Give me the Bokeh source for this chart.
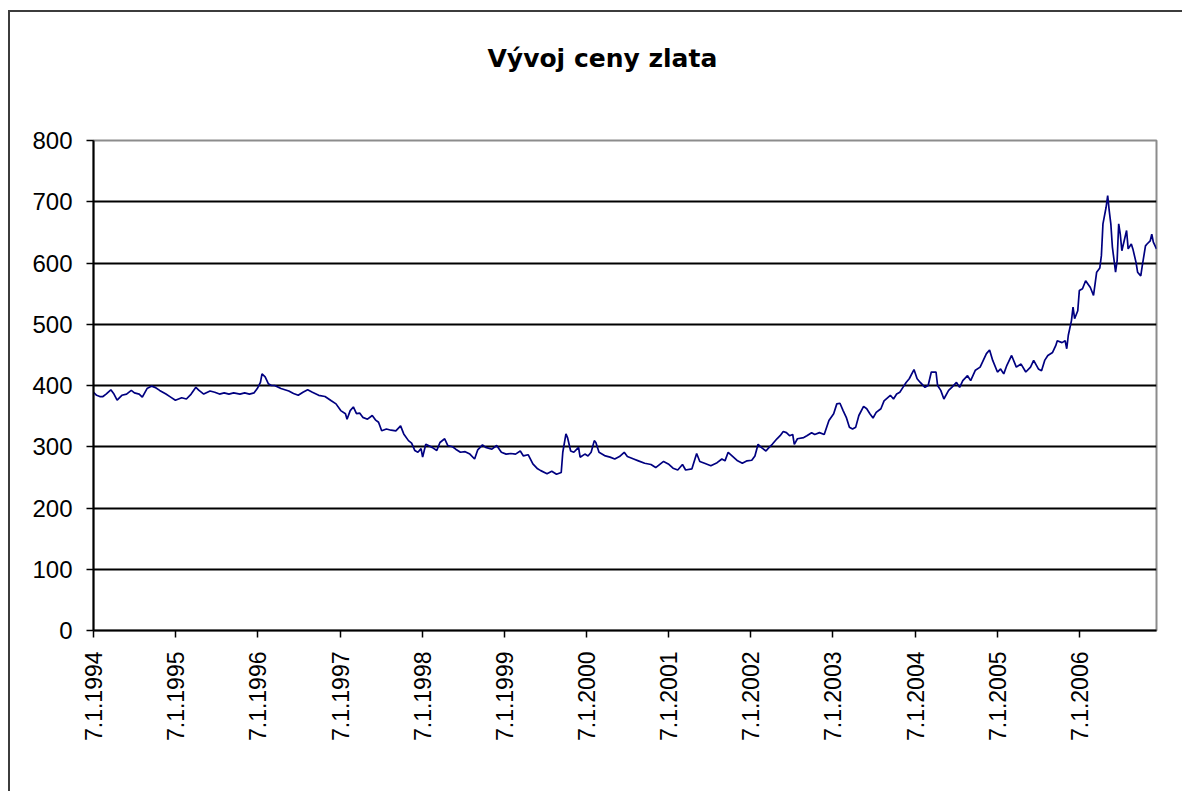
import datetime
import numpy as np
from bokeh.plotting import figure
from bokeh.layouts import column
from bokeh.models import FixedTicker, CustomJSTickFormatter, Range1d
from bokeh.embed import file_html
from bokeh.resources import INLINE

# weeks since 7.1.1994 (weekly gold price observations)
weeks = [0, 2, 4, 6, 8, 11, 13, 15, 18, 21, 24, 26, 29, 31, 34, 37, 39, 42, 46, 49,
         52, 56, 59, 62, 65, 67, 70, 74, 77, 80, 83, 86, 89, 93, 96, 99, 102, 104, 106, 107,
         109, 111, 113, 115, 119, 124, 127, 130, 133, 136, 139, 143, 147, 151, 154, 157, 160, 161, 163, 165,
         167, 169, 171, 174, 177, 179, 181, 183, 186, 189, 192, 195, 197, 200, 202, 204, 206, 208, 209, 211,
         215, 218, 220, 223, 225, 228, 230, 233, 236, 239, 242, 244, 247, 249, 253, 256, 259, 262, 265, 268,
         271, 273, 276, 279, 282, 284, 288, 291, 294, 297, 298, 300, 301, 303, 305, 308, 309, 312, 314, 316,
         318, 319, 321, 325, 328, 331, 334, 337, 339, 343, 346, 350, 354, 357, 362, 365, 368, 371, 374, 376,
         380, 383, 385, 388, 392, 396, 399, 401, 403, 406, 409, 412, 415, 418, 420, 422, 424, 427, 429, 431,
         434, 436, 438, 440, 442, 444, 445, 447, 451, 453, 456, 458, 461, 464, 467, 470, 472, 474, 476, 478,
         480, 482, 484, 486, 489, 491, 493, 495, 497, 500, 502, 506, 508, 510, 512, 514, 516, 518, 521, 523,
         525, 528, 530, 532, 535, 536, 538, 540, 543, 545, 548, 550, 552, 555, 557, 560, 563, 565, 567, 569,
         571, 574, 576, 578, 580, 583, 586, 589, 592, 595, 597, 600, 602, 604, 606, 609, 611, 612, 615, 617,
         618, 619, 621, 622, 623, 625, 626, 628, 630, 633, 635, 636, 637, 639, 640, 641, 643, 644, 645, 646,
         647, 649, 650, 651, 652, 653, 655, 656, 657, 659, 660, 662, 663, 665, 666, 668, 669, 671, 672, 673,
         675]

prices = [389, 384, 382, 382, 386, 393, 386, 376, 384, 386, 392, 388, 386, 381, 395, 399, 397, 392, 386, 381,
          376, 380, 378, 386, 397, 392, 386, 391, 389, 386, 388, 386, 388, 386, 388, 386, 388, 395, 405, 419,
          414, 403, 400, 400, 395, 391, 387, 384, 389, 393, 389, 384, 382, 375, 370, 359, 354, 345, 359, 365,
          354, 355, 348, 345, 351, 344, 340, 326, 329, 327, 326, 334, 321, 310, 306, 294, 291, 297, 283, 304,
          299, 294, 307, 313, 302, 300, 296, 291, 292, 288, 280, 295, 303, 299, 296, 302, 291, 288, 289, 288,
          293, 285, 287, 272, 264, 261, 256, 260, 255, 258, 291, 321, 315, 293, 291, 299, 283, 288, 285, 291,
          310, 307, 291, 285, 283, 280, 284, 291, 284, 280, 277, 273, 271, 266, 276, 272, 265, 262, 271, 262,
          264, 289, 276, 273, 269, 274, 280, 277, 291, 284, 277, 273, 277, 278, 285, 304, 299, 293, 299, 304,
          313, 318, 325, 323, 318, 320, 304, 313, 315, 318, 323, 320, 323, 320, 343, 354, 370, 371, 359, 348,
          332, 329, 332, 351, 366, 362, 354, 347, 356, 362, 375, 384, 378, 386, 389, 397, 405, 411, 426, 411,
          405, 397, 400, 422, 422, 400, 392, 378, 392, 397, 405, 397, 408, 416, 408, 425, 430, 441, 452, 458,
          441, 422, 427, 419, 433, 449, 430, 435, 422, 430, 441, 427, 424, 441, 449, 454, 465, 473, 470, 473,
          460, 482, 506, 528, 509, 522, 555, 558, 571, 560, 547, 566, 585, 592, 612, 664, 691, 710, 685, 664,
          626, 585, 604, 664, 647, 620, 642, 653, 623, 631, 623, 601, 585, 579, 596, 628, 631, 636, 647, 634,
          623]

tick_years = list(range(1994, 2007))
y_ticks = [0, 100, 200, 300, 400, 500, 600, 700, 800]
grid_ticks = [100, 200, 300, 400, 500, 600, 700]
title_text = "Vývoj ceny zlata"

base = np.datetime64("1994-01-07")
dates = base + np.array(weeks) * np.timedelta64(7, "D")
epoch = datetime.datetime(1970, 1, 1)
tick_ms = [int((datetime.datetime(y, 1, 7) - epoch).total_seconds() * 1000) for y in tick_years]

# --- title strip (its own svg figure, no axes) ---
t = figure(width=1172, height=100, output_backend="svg", toolbar_location=None,
           x_axis_location=None, y_axis_location=None,
           min_border_left=83, min_border_right=26, min_border_top=0, min_border_bottom=0)
t.grid.visible = False
t.outline_line_color = None
t.background_fill_color = "white"
t.border_fill_color = "white"
t.title.text = title_text
t.title.align = "left"
t.title.offset = 394
t.title.standoff = 59
t.title.text_font = "DejaVu Sans"
t.title.text_font_style = "bold"
t.title.text_font_size = "25px"
t.title.text_color = "black"

# --- main chart ---
p = figure(width=1172, height=679, x_axis_type="datetime",
           output_backend="svg", toolbar_location=None,
           x_range=Range1d(dates[0], dates[-1]), y_range=Range1d(0, 800),
           min_border_left=83, min_border_right=26, min_border_top=28, min_border_bottom=161)

p.background_fill_color = "white"
p.border_fill_color = "white"
p.outline_line_color = "#8c8c8c"
p.outline_line_width = 2

p.line(dates, prices, line_color="#000080", line_width=1.7)

p.xgrid.visible = False
p.ygrid.ticker = FixedTicker(ticks=grid_ticks)
p.ygrid.grid_line_color = "black"
p.ygrid.grid_line_width = 2

p.yaxis.ticker = FixedTicker(ticks=y_ticks)
p.xaxis.ticker = FixedTicker(ticks=tick_ms)
p.xaxis.formatter = CustomJSTickFormatter(
    code="const d = new Date(tick); return d.getUTCDate() + '.' + (d.getUTCMonth() + 1) + '.' + d.getUTCFullYear();")
p.xaxis.major_label_orientation = np.pi / 2

for ax in (p.xaxis[0], p.yaxis[0]):
    ax.axis_line_color = "black"
    ax.axis_line_width = 2
    ax.major_tick_line_color = "black"
    ax.major_tick_line_width = 1.5
    ax.major_tick_in = 0
    ax.major_tick_out = 7
    ax.minor_tick_line_color = None
    ax.major_label_text_font = "Liberation Sans"
    ax.major_label_text_color = "black"

p.yaxis.major_label_text_font_size = "24px"
p.xaxis.major_label_text_font_size = "23px"
p.yaxis.major_label_standoff = 14
p.xaxis.major_label_standoff = 14

layout = column(t, p, spacing=0)
layout.styles = {"margin-left": "8px", "margin-top": "10px",
                 "border-left": "2px solid #3c3c3c", "border-top": "2px solid #3c3c3c"}

open("out.html", "w").write(file_html(layout, INLINE))
